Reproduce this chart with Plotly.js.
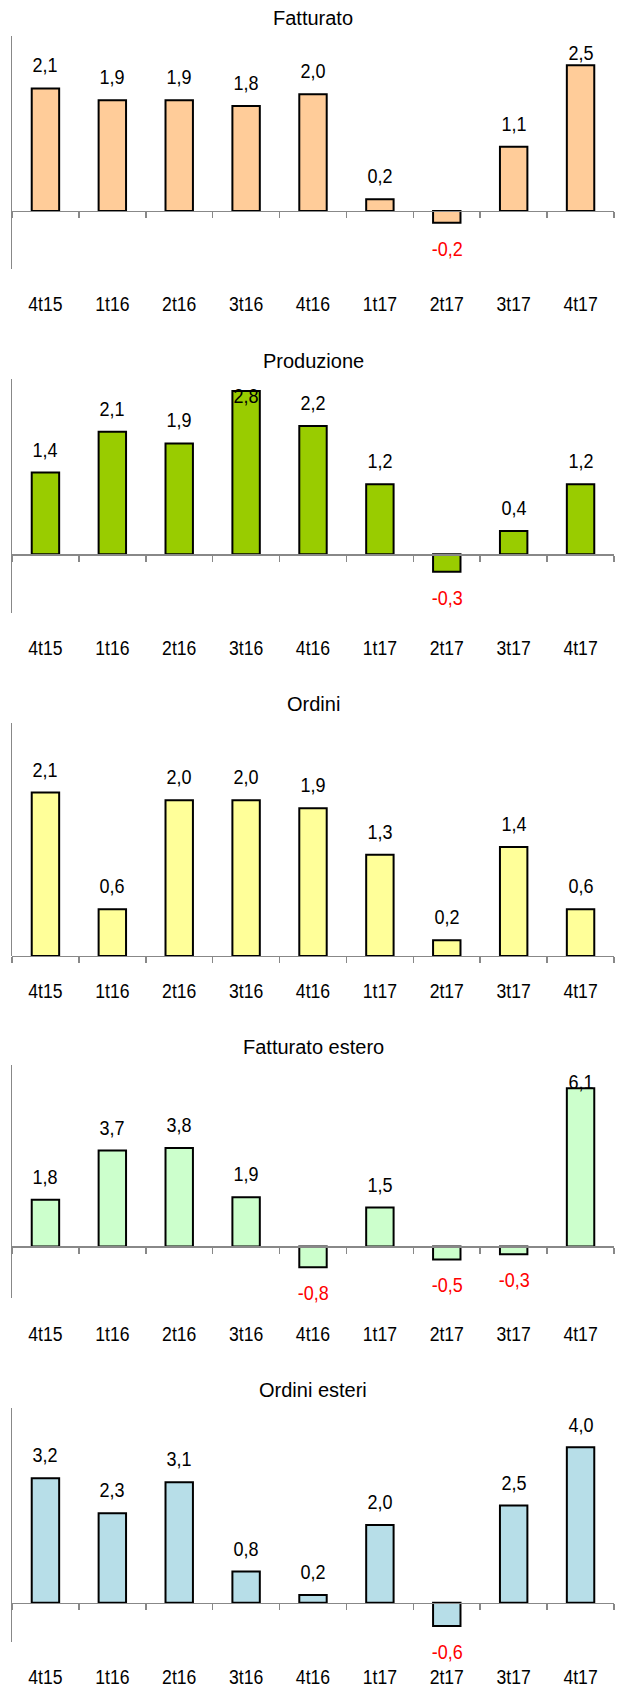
<!DOCTYPE html>
<html>
<head>
<meta charset="utf-8">
<script src="https://cdn.plot.ly/plotly-3.0.1.min.js"></script>
<style>html,body{margin:0;padding:0;background:#fff;}#chart{width:618px;height:1688px;}</style>
</head>
<body>
<div id="chart"></div>
<script>
// ---- data ----
const categories = ['4t15','1t16','2t16','3t16','4t16','1t17','2t17','3t17','4t17'];
const fatturato       = [2.1, 1.9, 1.9, 1.8, 2.0, 0.2, -0.2, 1.1, 2.5];
const produzione      = [1.4, 2.1, 1.9, 2.8, 2.2, 1.2, -0.3, 0.4, 1.2];
const ordini          = [2.1, 0.6, 2.0, 2.0, 1.9, 1.3, 0.2, 1.4, 0.6];
const fatturatoEstero = [1.8, 3.7, 3.8, 1.9, -0.8, 1.5, -0.5, -0.3, 6.1];
const ordiniEsteri    = [3.2, 2.3, 3.1, 0.8, 0.2, 2.0, -0.6, 2.5, 4.0];
const titles = ['Fatturato', 'Produzione', 'Ordini', 'Fatturato estero', 'Ordini esteri'];
const yRanges = [[-1, 3], [-1, 3], [0, 3], [-2, 7], [-1, 5]];

// ---- style / layout ----
const series = [fatturato, produzione, ordini, fatturatoEstero, ordiniEsteri];
const colors = ['#FFCC99', '#99CC00', '#FFFF99', '#CCFFCC', '#B7DEE8'];
const W = 618, H = 1688;
const plotLeft = 12, plotRight = 614;
const plotTops = [36, 379.3, 722.6, 1065, 1408.3];
const plotH = 233.3;
const labelFont = '"Liberation Sans", Arial, sans-serif';
const axisGray = '#888888';
const TICK_SQUEEZE = 0.88, LABEL_SQUEEZE = 0.9;

const data = [];
const layout = {
  width: W, height: H,
  margin: {l: 0, r: 0, t: 0, b: 0},
  paper_bgcolor: '#ffffff', plot_bgcolor: '#ffffff',
  showlegend: false,
  bargap: 0.59,
  annotations: []
};
const labelIdx = new Set();

series.forEach((vals, i) => {
  const sfx = i === 0 ? '' : String(i + 1);
  const xa = 'x' + sfx, ya = 'y' + sfx;
  const [r0, r1] = yRanges[i];
  const top = plotTops[i], bottom = top + plotH;
  const ppu = plotH / (r1 - r0);
  const zeroPx = bottom - (0 - r0) * ppu;
  const yDomain = [1 - bottom / H, 1 - top / H];

  data.push({
    type: 'bar', x: categories, y: vals, xaxis: xa, yaxis: ya,
    marker: {color: colors[i], line: {color: '#000000', width: 2}},
    hoverinfo: 'skip'
  });

  layout['xaxis' + sfx] = {
    domain: [plotLeft / W, plotRight / W],
    anchor: 'free', position: 1 - zeroPx / H,
    type: 'category', range: [-0.5, categories.length - 0.5],
    showline: true, linecolor: axisGray, linewidth: 1.5,
    ticks: 'outside', ticklen: 6, tickcolor: axisGray, tickwidth: 1.5,
    tickson: 'boundaries',
    showgrid: false, zeroline: false,
    tickfont: {family: labelFont, size: 20, color: '#000000'},
    ticklabelstandoff: Math.round(bottom + 34 - zeroPx - 17),
    fixedrange: true
  };
  layout['yaxis' + sfx] = {
    domain: yDomain, anchor: xa, range: [r0, r1],
    showline: true, linecolor: axisGray, linewidth: 1.5,
    showticklabels: false, ticks: '', showgrid: false, zeroline: false,
    fixedrange: true
  };

  // chart title
  layout.annotations.push({
    xref: 'paper', yref: 'paper',
    x: (plotLeft + plotRight) / 2 / W, y: 1 - (top - 18.5) / H,
    xanchor: 'center', yanchor: 'middle', showarrow: false,
    text: titles[i],
    font: {family: '"Liberation Sans", Arial, sans-serif', size: 20, color: '#000000'}
  });

  // data labels
  vals.forEach((v, j) => {
    let y = v, shift;
    if (v >= 0) {
      shift = 23;
      if (v * ppu + 23 > r1 * ppu - 17) { y = r1; shift = -17; }
    } else {
      shift = -26;
    }
    labelIdx.add(layout.annotations.length);
    layout.annotations.push({
      xref: xa, yref: ya, x: categories[j], y: y, yshift: shift,
      xanchor: 'center', yanchor: 'middle', showarrow: false,
      text: v.toFixed(1).replace('.', ','),
      font: {family: labelFont, size: 20, color: v < 0 ? '#FF0000' : '#000000'}
    });
  });
});

function squeeze(el, f) {
  const len = el.getComputedTextLength();
  if (len > 0) {
    el.setAttribute('textLength', (len * f).toFixed(2));
    el.setAttribute('lengthAdjust', 'spacingAndGlyphs');
  }
}

Plotly.newPlot('chart', data, layout, {staticPlot: true, displayModeBar: false}).then(gd => {
  gd.querySelectorAll('.xaxislayer-above text').forEach(t => squeeze(t, TICK_SQUEEZE));
  gd.querySelectorAll('g.annotation').forEach(g => {
    const idx = +g.getAttribute('data-index');
    if (labelIdx.has(idx)) {
      const t = g.querySelector('text.annotation-text');
      if (t) squeeze(t, LABEL_SQUEEZE);
    }
  });
});
</script>
</body>
</html>
